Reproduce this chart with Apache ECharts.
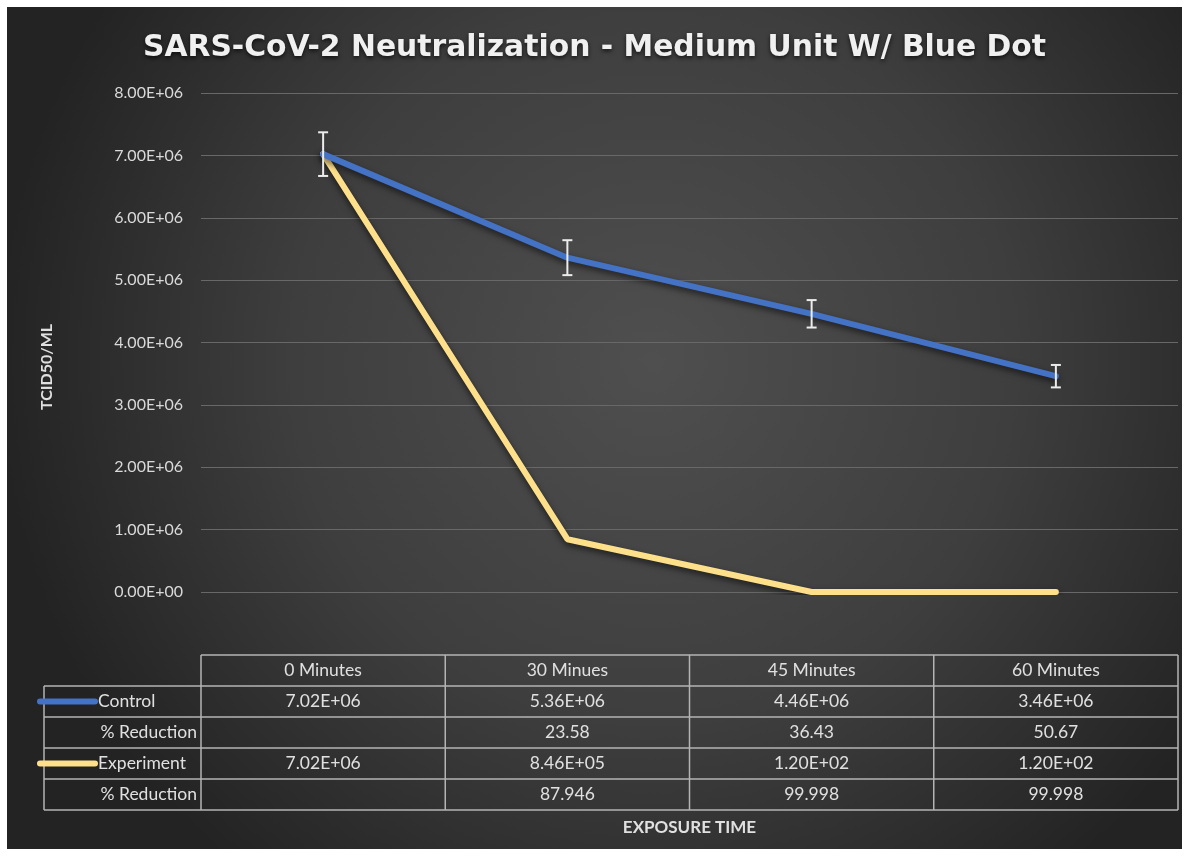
<!DOCTYPE html>
<html>
<head>
<meta charset="utf-8">
<script src="https://cdn.jsdelivr.net/npm/echarts@6/dist/echarts.min.js"></script>
<style>
  html, body { margin: 0; padding: 0; background: #fff; }
  #main { position: absolute; left: 7px; top: 7px; width: 1175px; height: 842px; }
</style>
</head>
<body>
<div id="main"></div>
<script>
var categories = ['0 Minutes', '30 Minues', '45 Minutes', '60 Minutes'];
var control = [7.02e6, 5.36e6, 4.46e6, 3.46e6];
var controlErr = [0.35e6, 0.28e6, 0.22e6, 0.18e6];
var controlReduction = ['', '23.58', '36.43', '50.67'];
var experiment = [7.02e6, 8.46e5, 1.20e2, 1.20e2];
var experimentReduction = ['', '87.946', '99.998', '99.998'];

var blue = '#4472c4';
var yellow = '#ffe08a';
var txt = '#e0e0e0';
var font = 'Lato';

// 7020000 -> 7.02E+06
function sci(v) {
  if (v === 0) return '0.00E+00';
  var e = Math.floor(Math.log10(Math.abs(v)));
  var s = (v / Math.pow(10, e)).toFixed(2);
  if (s === '10.00') { s = '1.00'; e++; }
  var a = Math.abs(e);
  return s + 'E' + (e < 0 ? '-' : '+') + (a < 10 ? '0' : '') + a;
}

var myChart = echarts.init(document.getElementById('main'));

var errData = [];
for (var i = 0; i < control.length; i++) {
  errData.push([i, control[i], controlErr[i]]);
}

myChart.setOption({
  backgroundColor: {
    type: 'radial', x: 0.55, y: 0.42, r: 0.78,
    colorStops: [
      { offset: 0, color: '#4f4f4f' },
      { offset: 0.55, color: '#3e3e3e' },
      { offset: 1, color: '#232323' }
    ]
  },
  title: {
    text: 'SARS-CoV-2 Neutralization - Medium Unit W/ Blue Dot',
    left: 'center',
    top: 21,
    textStyle: {
      color: '#f0f0f0',
      fontSize: 29.8,
      fontWeight: 'bold',
      fontFamily: 'DejaVu Sans',
      textShadowColor: 'rgba(0,0,0,0.7)',
      textShadowBlur: 4,
      textShadowOffsetY: 2
    }
  },
  grid: {
    left: 194,
    right: 4,
    top: 86,
    bottom: 257
  },
  xAxis: {
    type: 'category',
    data: categories,
    boundaryGap: true,
    axisLine: { show: false },
    axisTick: { show: false },
    axisLabel: { show: false }
  },
  yAxis: {
    type: 'value',
    min: 0,
    max: 8e6,
    interval: 1e6,
    axisLine: { show: false },
    axisTick: { show: false },
    axisLabel: {
      color: '#d9d9d9',
      fontSize: 16,
      fontFamily: font,
      margin: 18,
      formatter: function (v) { return sci(v); }
    },
    splitLine: { lineStyle: { color: '#686868', width: 1.2 } }
  },
  series: [{
      name: 'Control',
      type: 'line',
      data: control,
      showSymbol: false,
      lineStyle: {
        color: blue,
        width: 6,
        cap: 'round',
        shadowColor: 'rgba(0,0,0,0.6)',
        shadowBlur: 6,
        shadowOffsetY: 3
      },
      z: 3
    },
    {
      name: 'Experiment',
      type: 'line',
      data: experiment,
      showSymbol: false,
      lineStyle: {
        color: yellow,
        width: 6,
        cap: 'round',
        shadowColor: 'rgba(0,0,0,0.6)',
        shadowBlur: 6,
        shadowOffsetY: 3
      },
      z: 2
    },
    {
      name: 'err',
      type: 'custom',
      data: errData,
      z: 5,
      renderItem: function (params, api) {
        var x = api.value(0);
        var v = api.value(1);
        var e = api.value(2);
        var top = api.coord([x, v + e]);
        var bot = api.coord([x, v - e]);
        var w = 5;
        var st = { stroke: '#ececec', lineWidth: 2 };
        return {
          type: 'group',
          children: [
            { type: 'line', shape: { x1: top[0], y1: top[1], x2: bot[0], y2: bot[1] }, style: st },
            { type: 'line', shape: { x1: top[0] - w, y1: top[1], x2: top[0] + w, y2: top[1] }, style: st },
            { type: 'line', shape: { x1: bot[0] - w, y1: bot[1], x2: bot[0] + w, y2: bot[1] }, style: st }
          ]
        };
      }
    }
  ]
});

// data table under the plot
var centers = categories.map(function (c, i) {
  return myChart.convertToPixel({ xAxisIndex: 0 }, i);
});
var colW = centers[1] - centers[0];
var tableLeft = 37;
var firstCol = centers[0] - colW / 2;
var tableRight = centers[centers.length - 1] + colW / 2;
var rowTop = 648;
var rowH = 31;
var border = { stroke: '#b4b4b4', lineWidth: 1.5 };
var g = [];

// horizontal lines
g.push({ type: 'line', shape: { x1: firstCol, y1: rowTop, x2: tableRight, y2: rowTop }, style: border });
for (var r = 1; r <= 5; r++) {
  g.push({ type: 'line', shape: { x1: tableLeft, y1: rowTop + r * rowH, x2: tableRight, y2: rowTop + r * rowH }, style: border });
}
// vertical lines
g.push({ type: 'line', shape: { x1: tableLeft, y1: rowTop + rowH, x2: tableLeft, y2: rowTop + 5 * rowH }, style: border });
for (var c = 0; c <= categories.length; c++) {
  var x = firstCol + c * colW;
  g.push({ type: 'line', shape: { x1: x, y1: rowTop, x2: x, y2: rowTop + 5 * rowH }, style: border });
}

function cell(text, x, y, align) {
  return {
    type: 'text', x: x, y: y,
    style: {
      text: text, fill: txt, fontSize: 17.5, fontFamily: font,
      align: align || 'center', verticalAlign: 'middle'
    }
  };
}

var rows = [
  { label: 'Control', key: blue, vals: control.map(sci) },
  { label: '% Reduction', vals: controlReduction },
  { label: 'Experiment', key: yellow, vals: experiment.map(sci) },
  { label: '% Reduction', vals: experimentReduction }
];

categories.forEach(function (cat, i) {
  g.push(cell(cat, centers[i], rowTop + rowH / 2));
});
rows.forEach(function (row, r) {
  var cy = rowTop + (r + 1.5) * rowH;
  if (row.key) {
    g.push({
      type: 'line',
      shape: { x1: 33, y1: cy, x2: 88, y2: cy },
      style: { stroke: row.key, lineWidth: 6, lineCap: 'round' }
    });
    g.push(cell(row.label, 91, cy, 'left'));
  } else {
    g.push(cell(row.label, firstCol - 4, cy, 'right'));
  }
  row.vals.forEach(function (v, i) {
    g.push(cell(v, centers[i], cy));
  });
});

// axis titles
g.push({
  type: 'text', x: firstCol + (tableRight - firstCol) / 2, y: 821,
  style: { text: 'EXPOSURE TIME', fill: txt, fontSize: 17, fontWeight: 'bold', fontFamily: font, align: 'center', verticalAlign: 'middle' }
});
g.push({
  type: 'text', x: 40, y: 360, rotation: Math.PI / 2,
  style: { text: 'TCID50/ML', fill: txt, fontSize: 16, fontWeight: 'bold', fontFamily: font, align: 'center', verticalAlign: 'middle' }
});

myChart.setOption({ graphic: g });
</script>
</body>
</html>
